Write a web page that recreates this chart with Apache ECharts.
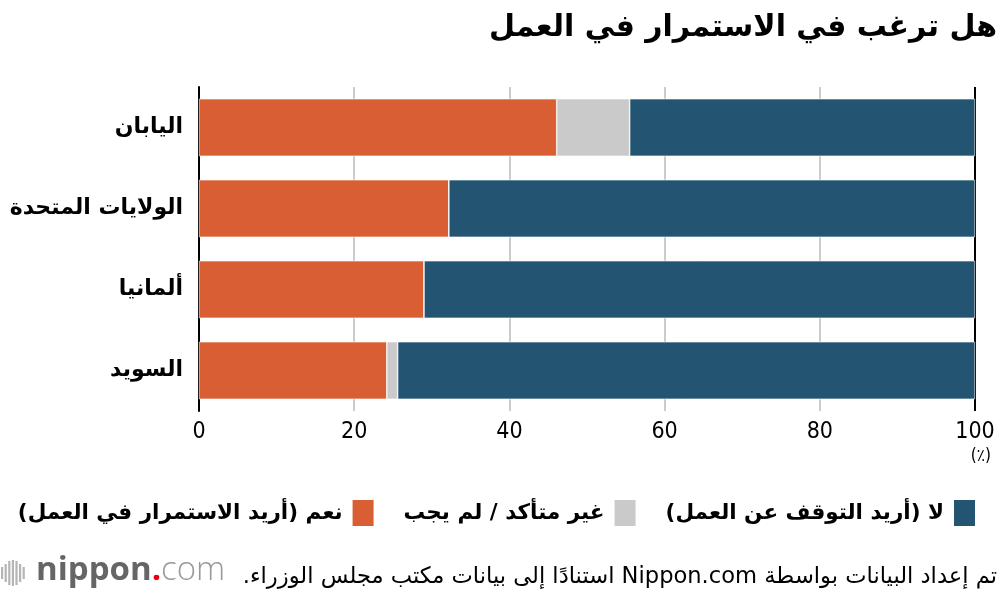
<!DOCTYPE html>
<html dir="rtl">
<head>
<meta charset="utf-8">
<script src="https://cdn.jsdelivr.net/npm/echarts@6/dist/echarts.min.js"></script>
<style>html,body{margin:0;padding:0;background:#fff}#c{width:1000px;height:596px}</style>
</head>
<body>
<div id="c"></div>
<script>
const categories = ['اليابان', 'الولايات المتحدة', 'ألمانيا', 'السويد'];
const seriesNames = ['نعم (أريد الاستمرار في العمل)', 'غير متأكد / لم يجب', 'لا (أريد التوقف عن العمل)'];
const yesValues = [46.1, 32.2, 29.0, 24.2];
const unsureValues = [9.4, 0, 0, 1.4];
const noValues = [44.5, 67.8, 71.0, 74.4];
const xTicks = [0, 20, 40, 60, 80, 100];
const colors = ['#D95E33', '#CACACA', '#235573'];

const AR = "'DejaVu Sans', 'Noto Sans', sans-serif";
const NUM = "'DejaVu Sans Condensed', 'Liberation Sans Narrow', 'Roboto Condensed', 'Liberation Sans', sans-serif";
const LOGO = "'Open Sans', sans-serif";

const chart = echarts.init(document.getElementById('c'), null, {renderer: 'canvas'});
const mk = (i, data) => ({
  name: seriesNames[i], type: 'bar', stack: 'total', data: data,
  barCategoryGap: '29%',
  itemStyle: {color: colors[i], borderColor: '#fff', borderWidth: 0.6},
  emphasis: {disabled: true}
});
const logoBars = [];
const barH = [12, 18, 24, 26, 24, 18, 12];
barH.forEach((h, i) => {
  logoBars.push({type: 'rect', left: 1 + i * 3.6, top: 573 - h / 2, shape: {width: 2.2, height: h}, style: {fill: '#b5b5b5'}});
});
chart.setOption({
  animation: false,
  textStyle: {fontFamily: AR},
  title: {
    text: 'هل ترغب في الاستمرار في العمل',
    right: 3, top: 13, padding: 0,
    textStyle: {fontFamily: AR, fontSize: 30, fontWeight: 'bold', color: '#000'}
  },
  legend: {
    data: seriesNames,
    top: 498, right: 23, padding: 0,
    align: 'right',
    itemWidth: 23, itemHeight: 28, itemGap: 28,
    icon: 'rect',
    textStyle: {fontFamily: AR, fontSize: 21.5, fontWeight: 'bold', color: '#000', padding: [0, 4, 0, 0]}
  },
  grid: {left: 199, right: 25, top: 87, bottom: 185, containLabel: false},
  xAxis: {
    type: 'value', min: 0, max: 100, interval: 20,
    axisLine: {show: false}, axisTick: {show: false},
    axisLabel: {fontFamily: NUM, fontSize: 23, color: '#000', margin: 10,
      formatter: v => xTicks.includes(v) ? String(v) : ''},
    splitLine: {show: true, lineStyle: {color: ['#000', '#cccccc', '#cccccc', '#cccccc', '#cccccc', '#000'], width: 2}}
  },
  yAxis: {
    type: 'category', data: categories, inverse: true,
    axisLine: {show: true, lineStyle: {color: '#000', width: 2}},
    axisTick: {show: false},
    axisLabel: {fontFamily: AR, fontSize: 22, fontWeight: 'bold', color: '#000', margin: 16}
  },
  series: [mk(0, yesValues), mk(1, unsureValues), mk(2, noValues)],
  graphic: [
    {type: 'text', right: 9, top: 448, style: {text: '(٪)', font: "17px " + NUM, fill: '#000'}},
    {type: 'text', right: 3, top: 566, style: {text: 'تم إعداد البيانات بواسطة Nippon.com استنادًا إلى بيانات مكتب مجلس الوزراء.', font: "22.6px " + AR, fill: '#000'}},
    ...logoBars,
    {type: 'text', left: 36, top: 554, style: {
      text: '{a|nippon}{b|.}{c|com}',
      rich: {
        a: {fontFamily: LOGO, fontSize: 33, fontWeight: 'bold', fill: '#666'},
        b: {fontFamily: LOGO, fontSize: 33, fontWeight: 'bold', fill: '#e60012'},
        c: {fontFamily: LOGO, fontSize: 33, fontWeight: 300, fill: '#999'}
      }
    }}
  ]
});
</script>
</body>
</html>
